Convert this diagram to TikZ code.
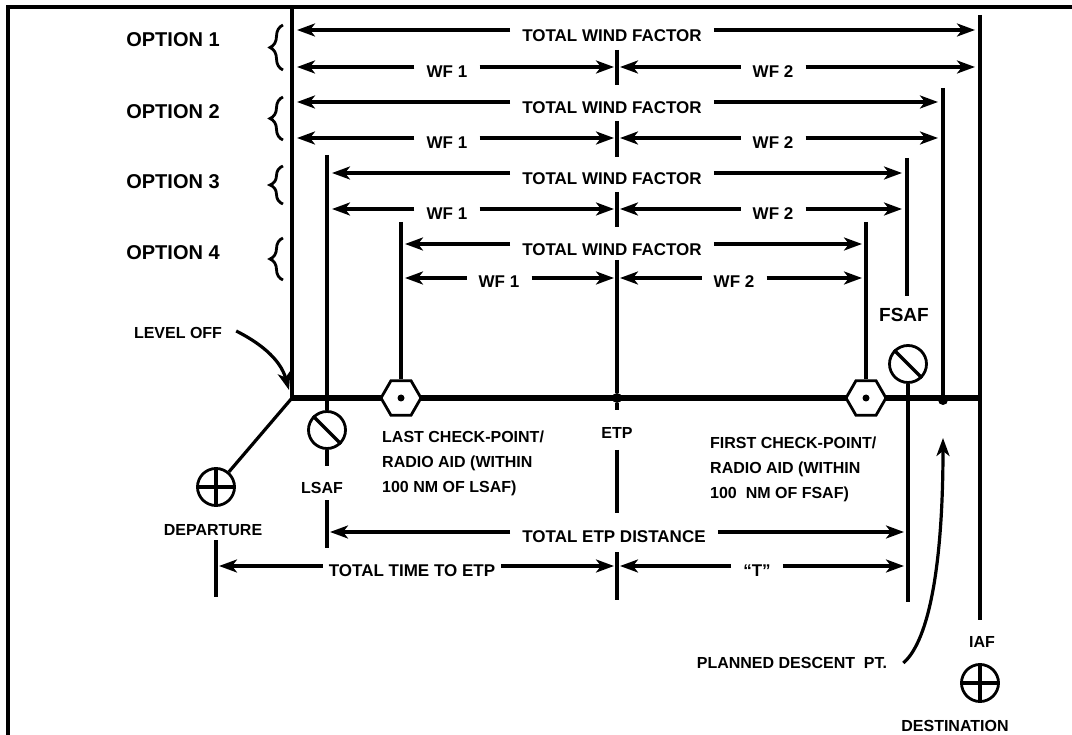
\documentclass[tikz,border=0pt]{standalone}
\usepackage{fontspec}
\setmainfont{Liberation Sans}
\usetikzlibrary{arrows.meta,shapes.geometric,decorations.pathreplacing}

\begin{document}
\begin{tikzpicture}[
  x=1pt,y=-1pt,
  txt/.style={font=\bfseries\fontsize{16}{25}\selectfont,inner sep=0pt},
  opt/.style={font=\bfseries\fontsize{20}{24}\selectfont,inner sep=0pt},
  gap/.style={font=\bfseries\fontsize{17}{20}\selectfont,inner ysep=0pt,inner xsep=12pt},
  ln/.style={line width=3.2pt},
  ar/.style={-{Stealth[length=18pt,width=13pt,inset=5pt]},line width=3.2pt},
  brc/.style={decorate,decoration={brace,amplitude=13pt},line width=2.8pt},
  fix/.style={draw,circle,line width=2.8pt,minimum size=37pt,inner sep=0pt,fill=white},
  hexa/.style={draw,regular polygon,regular polygon sides=6,minimum size=40pt,inner sep=0pt,line width=2.8pt,fill=white},
  dot/.style={circle,fill,inner sep=0pt,minimum size=10pt}
]
\useasboundingbox (0,0) rectangle (1072,735);
\draw[line width=3.5pt] (8,735) -- (8,7) -- (1072,7);

\coordinate (top0) at (292,8);
\coordinate (lo) at (292,398);
\coordinate (iaft) at (980,15);
\coordinate (iafm) at (980,398);
\coordinate (iafb) at (980,620);
\draw[ln] (top0) -- (lo);
\draw[ln] (iaft) -- (iafb);
\draw[line width=5.5pt] (lo) -- (iafm);

\node[opt] (o1) at (173,40) {OPTION 1};
\node[opt] (o2) at (173,112) {OPTION 2};
\node[opt] (o3) at (173,182) {OPTION 3};
\node[opt] (o4) at (173,253) {OPTION 4};
\draw[brc] (283,70) -- (283,25);
\draw[brc] (283,140) -- (283,97);
\draw[brc] (283,204) -- (283,166);
\draw[brc] (283,280) -- (283,238);

\coordinate (l1) at (297,30);
\coordinate (r1) at (975,30);
\node[gap] (tw1) at (612,36) {TOTAL WIND FACTOR};
\draw[ar] (tw1.west |- l1) -- (l1);
\draw[ar] (tw1.east |- r1) -- (r1);
\coordinate (l1w) at (297,67);
\coordinate (r1w) at (975,67);
\coordinate (e1a) at (617,50);
\coordinate (e1b) at (617,85);
\draw[ln] (e1a) -- (e1b);
\node[gap] (wfa1) at (447,72) {WF 1};
\node[gap] (wfb1) at (773,72) {WF 2};
\draw[ar] (wfa1.west |- l1w) -- (l1w);
\draw[ar] (wfa1.east |- l1w) -- ([xshift=-3pt]e1a |- l1w);
\draw[ar] (wfb1.west |- l1w) -- ([xshift=3pt]e1a |- l1w);
\draw[ar] (wfb1.east |- r1w) -- (r1w);

\coordinate (l2) at (297,102);
\coordinate (r2) at (938,102);
\node[gap] (tw2) at (612,108) {TOTAL WIND FACTOR};
\draw[ar] (tw2.west |- l2) -- (l2);
\draw[ar] (tw2.east |- r2) -- (r2);
\coordinate (l2w) at (297,138);
\coordinate (r2w) at (938,138);
\coordinate (e2a) at (617,121);
\coordinate (e2b) at (617,157);
\draw[ln] (e2a) -- (e2b);
\node[gap] (wfa2) at (447,143) {WF 1};
\node[gap] (wfb2) at (773,143) {WF 2};
\draw[ar] (wfa2.west |- l2w) -- (l2w);
\draw[ar] (wfa2.east |- l2w) -- ([xshift=-3pt]e2a |- l2w);
\draw[ar] (wfb2.west |- l2w) -- ([xshift=3pt]e2a |- l2w);
\draw[ar] (wfb2.east |- r2w) -- (r2w);

\coordinate (l3) at (332,173);
\coordinate (r3) at (902,173);
\node[gap] (tw3) at (612,179) {TOTAL WIND FACTOR};
\draw[ar] (tw3.west |- l3) -- (l3);
\draw[ar] (tw3.east |- r3) -- (r3);
\coordinate (l3w) at (332,209);
\coordinate (r3w) at (902,209);
\coordinate (e3a) at (617,192);
\coordinate (e3b) at (617,227);
\draw[ln] (e3a) -- (e3b);
\node[gap] (wfa3) at (447,214) {WF 1};
\node[gap] (wfb3) at (773,214) {WF 2};
\draw[ar] (wfa3.west |- l3w) -- (l3w);
\draw[ar] (wfa3.east |- l3w) -- ([xshift=-3pt]e3a |- l3w);
\draw[ar] (wfb3.west |- l3w) -- ([xshift=3pt]e3a |- l3w);
\draw[ar] (wfb3.east |- r3w) -- (r3w);

\coordinate (l4) at (405,244);
\coordinate (r4) at (862,244);
\node[gap] (tw4) at (612,250) {TOTAL WIND FACTOR};
\draw[ar] (tw4.west |- l4) -- (l4);
\draw[ar] (tw4.east |- r4) -- (r4);
\coordinate (l4w) at (405,278);
\coordinate (r4w) at (862,278);
\coordinate (e4a) at (617,260);
\node[gap] (wfa4) at (499,282) {WF 1};
\node[gap] (wfb4) at (734,282) {WF 2};
\draw[ar] (wfa4.west |- l4w) -- (l4w);
\draw[ar] (wfa4.east |- l4w) -- ([xshift=-3pt]e4a |- l4w);
\draw[ar] (wfb4.west |- l4w) -- ([xshift=3pt]e4a |- l4w);
\draw[ar] (wfb4.east |- r4w) -- (r4w);

\node[dot] (etp) at (617,398) {};
\coordinate (etpb) at (617,410);
\draw[ln] (e4a) -- (etp);
\draw[ln] (etp) -- (etpb);
\node[txt] (etpl) at (617,433) {ETP};
\coordinate (e5a) at (617,450);
\coordinate (e5b) at (617,513);
\draw[ln] (e5a) -- (e5b);
\coordinate (e6a) at (617,552);
\coordinate (e6b) at (617,600);
\draw[ln] (e6a) -- (e6b);

\node[hexa] (lcp) at (401,398) {};
\node[dot,minimum size=7pt] (lcpd) at (lcp) {};
\coordinate (o4l) at (401,222);
\draw[ln] (o4l) -- (lcp.north);
\node[hexa] (fcp) at (866,398) {};
\node[dot,minimum size=7pt] (fcpd) at (fcp) {};
\coordinate (o4r) at (866,222);
\draw[ln] (o4r) -- (fcp.north);

\node[fix] (lsaf) at (327,430) {};
\draw[ln] (lsaf.north west) -- (lsaf.south east);
\coordinate (o3l) at (327,155);
\draw[ln] (o3l) -- (lsaf.north);
\coordinate (lsafd) at (327,466);
\draw[ln] (lsaf.south) -- (lsafd);
\node[txt] (lsafl) at (322,488) {LSAF};
\coordinate (lsa) at (327,500);
\coordinate (lsb) at (327,548);
\draw[ln] (lsa) -- (lsb);

\node[fix] (fsaf) at (908,364) {};
\draw[ln] (fsaf.north west) -- (fsaf.south east);
\coordinate (fsafb) at (908,602);
\draw[ln] (fsaf.south) -- (fsafb);
\node[opt,font=\bfseries\fontsize{19}{22}\selectfont] (fsafl) at (904,315) {FSAF};
\coordinate (o3ra) at (907,158);
\coordinate (o3rb) at (907,296);
\draw[ln] (o3ra) -- (o3rb);

\node[dot] (dpt) at (943,400) {};
\coordinate (o2r) at (943,88);
\draw[ln] (o2r) -- (dpt);
\coordinate (dtip) at (943,438);
\node[txt] (pdp) at (792,663) {PLANNED DESCENT\ \ PT.};
\draw[ar] ([xshift=16pt]pdp.east) .. controls (930,640) and (943,560) .. (dtip);

\node[fix] (dep) at (216,487) {};
\draw[ln] (dep.north) -- (dep.south);
\draw[ln] (dep.west) -- (dep.east);
\draw[ln] (dep) -- (lo);
\node[txt] (depl) at (213,530) {DEPARTURE};
\coordinate (dpa) at (216,540);
\coordinate (dpb) at (216,597);
\draw[ln] (dpa) -- (dpb);

\node[txt] (lvl) at (178,333) {LEVEL OFF};
\coordinate (loa) at (289,390);
\draw[ar] ([xshift=14pt,yshift=2pt]lvl.east) .. controls (258,342) and (280,358) .. (loa);

\node[txt,align=left,anchor=north west] (lcpl) at (382,431) {LAST CHECK-POINT/\\RADIO AID (WITHIN\\100 NM OF LSAF)};
\node[txt,align=left,anchor=north west] (fcpl) at (710,437) {FIRST CHECK-POINT/\\RADIO AID (WITHIN\\100\ \ NM OF FSAF)};

\coordinate (d1l) at (330,532);
\coordinate (d1r) at (904,532);
\node[gap] (ted) at (614,537) {TOTAL ETP DISTANCE};
\draw[ar] (ted.west |- d1l) -- (d1l);
\draw[ar] (ted.east |- d1r) -- (d1r);

\coordinate (t1l) at (219,566);
\coordinate (t1r) at (904,566);
\node[gap,inner xsep=6pt] (tte) at (412,571) {TOTAL TIME TO ETP};
\draw[ar] (tte.west |- t1l) -- (t1l);
\draw[ar] (tte.east |- t1l) -- ([xshift=-3pt]e6a |- t1l);
\node[gap] (tq) at (757,571) {“T”};
\draw[ar] (tq.west |- t1l) -- ([xshift=3pt]e6a |- t1l);
\draw[ar] (tq.east |- t1r) -- (t1r);

\node[txt] (iafl) at (982,642) {IAF};
\node[fix] (dst) at (980,683) {};
\draw[ln] (dst.north) -- (dst.south);
\draw[ln] (dst.west) -- (dst.east);
\node[txt] (dstl) at (955,726) {DESTINATION};
\end{tikzpicture}
\end{document}
